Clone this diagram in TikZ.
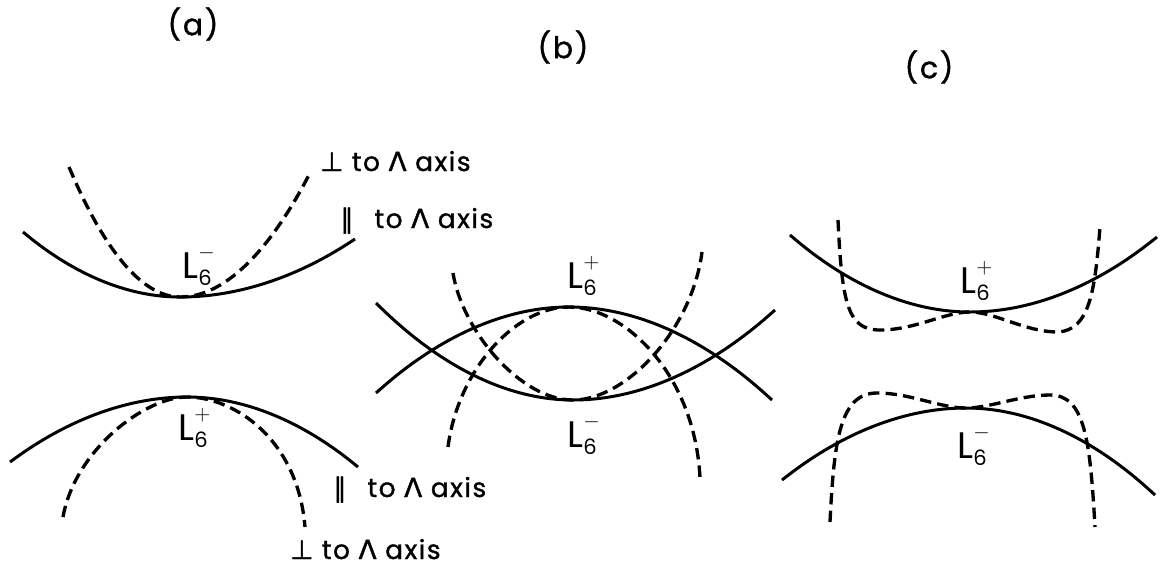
\documentclass[tikz,border=0pt]{standalone}
\usepackage{fontspec}
\usepackage{amsmath}
\setmainfont{Poppins}
\newfontfamily\notefont{Poppins}[LetterSpace=6,FakeBold=1.2]
\newfontfamily\symfont{DejaVu Sans}[FakeBold=1.5]
\usetikzlibrary{positioning}
\newcommand{\Lsix}[1]{L\rlap{\raisebox{11pt}{\fontsize{12}{12}\selectfont$#1$}}\raisebox{-4.5pt}{\fontsize{12}{12}\selectfont 6}}
\newcommand{\perpax}{{\symfont ⊥}\ to {\symfont Λ} axis}
\newcommand{\parax}{{\symfont ∥}\hspace{0.42cm}to {\symfont Λ} axis}

\begin{document}
\begin{tikzpicture}[
  x=0.02cm,y=-0.02cm,
  band/.style={line width=1.7pt},
  dband/.style={line width=1.9pt,dash pattern=on 6.5pt off 3.5pt},
  lvl/.style={anchor=base west,inner sep=0pt,font=\fontsize{21}{24}\selectfont},
  note/.style={anchor=base west,inner sep=0pt,font=\notefont\fontsize{15}{18}\selectfont},
  tag/.style={inner sep=0pt,font=\notefont\fontsize{17}{20}\selectfont}
]
  \useasboundingbox (0,0) rectangle (1163,572);
  % panel tags
  \node[tag] (taga) at (193,24) {(a)};
  \node[tag] (tagb) at (563,47) {(b)};
  \node[tag] (tagc) at (929,67) {(c)};
  % (a)
  \coordinate (aminus) at (180,297);
  \coordinate (aplus) at (187,397);
  \draw[band] (23,232) parabola bend (aminus) (355,239);
  \draw[dband] (69,167) parabola bend (aminus) (310,173);
  \draw[band] (10,462) parabola bend (aplus) (358,467);
  \draw[dband] (63,517) .. controls (75,450) and (145,397) .. (aplus)
    .. controls (235,397) and (298,440) .. (305,527);
  \node[lvl] (la) at (182,278) {\Lsix{-}};
  \node[lvl] (lb) at (178,440) {\Lsix{+}};
  \node[note] (pa) at (320,171) {\perpax};
  \node[note] (qa) at (340,228) {\parax};
  \node[note] (qb) at (333,497) {\parax};
  \node[note] (pb) at (290,559) {\perpax};
  % (b)
  \coordinate (btop) at (569,307);
  \coordinate (bbot) at (573,400);
  \draw[band] (376,393) parabola bend (btop) (772,400);
  \draw[band] (376,303) parabola bend (bbot) (775,310);
  \draw[dband] (448,447) .. controls (458,370) and (515,307) .. (btop)
    .. controls (625,307) and (695,375) .. (700,478);
  \draw[dband] (453,273) .. controls (462,330) and (520,400) .. (bbot)
    .. controls (626,400) and (692,330) .. (702,252);
  \node[lvl] (lc) at (567,288) {\Lsix{+}};
  \node[lvl] (ld) at (567,447) {\Lsix{-}};
  % (c)
  \coordinate (cbot) at (970,312);
  \coordinate (ctop) at (966,408);
  \draw[band] (790,235) parabola bend (cbot) (1157,237);
  \draw[dband] (838,220) .. controls (842,305) and (848,330) .. (880,330)
    .. controls (915,330) and (945,312) .. (cbot)
    .. controls (995,312) and (1025,332) .. (1058,332)
    .. controls (1090,330) and (1095,290) .. (1100,227);
  \draw[band] (782,480) parabola bend (ctop) (1155,495);
  \draw[dband] (830,522) .. controls (834,440) and (840,393) .. (877,393)
    .. controls (910,393) and (940,408) .. (ctop)
    .. controls (990,408) and (1020,395) .. (1050,395)
    .. controls (1085,395) and (1090,440) .. (1095,527);
  \node[lvl] (le) at (960,293) {\Lsix{+}};
  \node[lvl] (lf) at (957,458) {\Lsix{-}};
\end{tikzpicture}
\end{document}
